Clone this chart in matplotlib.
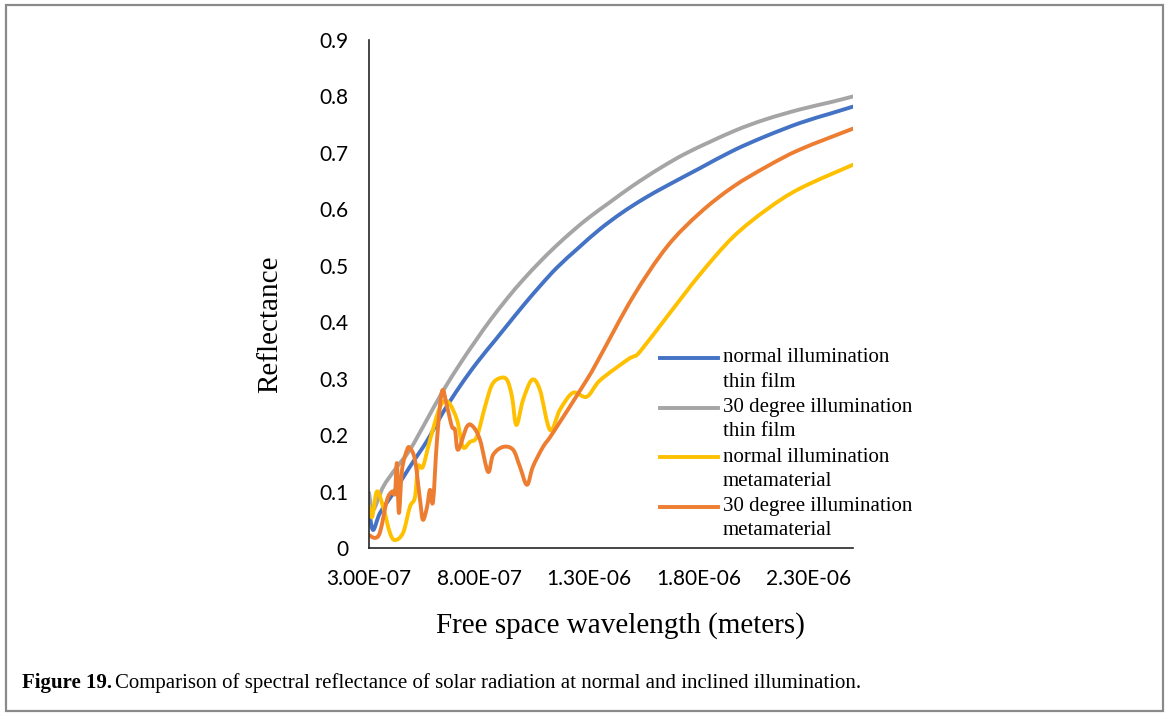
import matplotlib.pyplot as plt
from matplotlib.lines import Line2D
from matplotlib.patches import Rectangle, PathPatch
from matplotlib.path import Path
from matplotlib.ticker import FuncFormatter
import numpy as np

# wavelength in micrometres, reflectance
wl_blue = [0.30, 0.318, 0.35, 0.41, 0.486, 0.564, 0.636, 0.714, 0.79, 0.873, 0.927, 1.0,
           1.077, 1.155, 1.25, 1.35, 1.45, 1.55, 1.655, 1.8, 1.955, 2.1, 2.259, 2.4, 2.5]
r_blue = [0.07, 0.032, 0.062, 0.097, 0.144, 0.19, 0.24, 0.287, 0.328, 0.368, 0.394, 0.429,
          0.464, 0.497, 0.531, 0.565, 0.594, 0.619, 0.642, 0.672, 0.704, 0.729, 0.753, 0.77, 0.782]

wl_gray = [0.30, 0.318, 0.364, 0.42, 0.486, 0.56, 0.636, 0.72, 0.79, 0.85, 0.93, 1.0,
           1.077, 1.15, 1.23, 1.305, 1.4, 1.5, 1.623, 1.75, 1.955, 2.1, 2.259, 2.4, 2.5]
r_gray = [0.098, 0.067, 0.108, 0.14, 0.174, 0.225, 0.278, 0.33, 0.37, 0.403, 0.443, 0.475,
          0.507, 0.535, 0.563, 0.587, 0.614, 0.642, 0.673, 0.701, 0.738, 0.759, 0.777, 0.79, 0.80]

wl_yellow = [0.30, 0.314, 0.336, 0.364, 0.395, 0.418, 0.455, 0.486, 0.509, 0.523, 0.545,
             0.577, 0.623, 0.659, 0.70, 0.727, 0.759, 0.79, 0.827, 0.859, 0.895, 0.927,
             0.95, 0.97, 1.0, 1.041, 1.077, 1.123, 1.168, 1.227, 1.29, 1.35, 1.473, 1.5,
             1.532, 1.655, 1.805, 1.955, 2.109, 2.259, 2.5]
r_yellow = [0.075, 0.055, 0.10, 0.073, 0.027, 0.014, 0.027, 0.073, 0.09, 0.144, 0.144,
            0.191, 0.25, 0.259, 0.227, 0.179, 0.188, 0.197, 0.25, 0.289, 0.301, 0.298,
            0.268, 0.218, 0.262, 0.298, 0.28, 0.209, 0.245, 0.275, 0.268, 0.297, 0.333, 0.339,
            0.348, 0.41, 0.485, 0.551, 0.60, 0.637, 0.679]

wl_orange = [0.30, 0.327, 0.35, 0.382, 0.405, 0.418, 0.427, 0.436, 0.45, 0.473, 0.486,
             0.509, 0.532, 0.545, 0.564, 0.577, 0.591, 0.609, 0.632, 0.655, 0.677, 0.691,
             0.705, 0.745, 0.773, 0.805, 0.841, 0.864, 0.909, 0.955, 0.986, 1.018, 1.045,
             1.091, 1.136, 1.29, 1.35, 1.5, 1.655, 1.805, 1.955, 2.109, 2.259, 2.5]
r_orange = [0.023, 0.018, 0.028, 0.085, 0.10, 0.097, 0.15, 0.062, 0.138, 0.174, 0.177,
            0.156, 0.085, 0.05, 0.073, 0.103, 0.082, 0.191, 0.278, 0.25, 0.215, 0.209,
            0.174, 0.215, 0.215, 0.191, 0.135, 0.165, 0.179, 0.174, 0.144, 0.112, 0.144,
            0.179, 0.204, 0.298, 0.339, 0.445, 0.534, 0.594, 0.64, 0.676, 0.706, 0.743]

labels = [("normal illumination", "thin film"),
          ("30 degree illumination", "thin film"),
          ("normal illumination", "metamaterial"),
          ("30 degree illumination", "metamaterial")]
colors = ["#4472C4", "#A5A5A5", "#FFC000", "#ED7D31"]
series = [(wl_blue, r_blue), (wl_gray, r_gray), (wl_yellow, r_yellow), (wl_orange, r_orange)]


def smooth_path(x, y):
    # Excel-style smoothed line: cubic Bezier pieces through every point
    p = np.column_stack([x, y])
    verts = [p[0]]
    codes = [Path.MOVETO]
    n = len(p)
    for i in range(n - 1):
        p0 = p[i - 1] if i > 0 else p[i]
        p1, p2 = p[i], p[i + 1]
        p3 = p[i + 2] if i + 2 < n else p[i + 1]
        verts += [p1 + (p2 - p0) / 6, p2 - (p3 - p1) / 6, p2]
        codes += [Path.CURVE4] * 3
    return Path(verts, codes)


W, H = 1170, 715
fig = plt.figure(figsize=(W / 100, H / 100), dpi=100)
ax = fig.add_axes([369 / W, 1 - 548 / H, (853 - 369) / W, (548 - 40) / H])

for (wl, r), c in zip(series, colors):
    ax.add_patch(PathPatch(smooth_path(np.array(wl) * 1e-6, r), fill=False, edgecolor=c,
                           lw=2.8, capstyle='round', joinstyle='round'))

ax.set_xlim(3e-7, 2.5e-6)
ax.set_ylim(0, 0.9)
ax.set_xticks([3e-7, 8e-7, 1.3e-6, 1.8e-6, 2.3e-6])
ax.set_yticks(np.arange(0, 0.91, 0.1))
ax.xaxis.set_major_formatter(FuncFormatter(lambda v, p: f"{v:.2E}"))
ax.yaxis.set_major_formatter(FuncFormatter(lambda v, p: "0" if abs(v) < 1e-9 else f"{v:.1f}"))
ax.tick_params(length=0, labelsize=15, pad=15)
for lab in ax.get_xticklabels() + ax.get_yticklabels():
    lab.set_family("Lato")
for s in ["top", "right"]:
    ax.spines[s].set_visible(False)
for s in ["left", "bottom"]:
    ax.spines[s].set_color("#262626")
    ax.spines[s].set_linewidth(1.2)

serif = "Liberation Serif"
fig.text(620 / W, 1 - 626 / H, "Free space wavelength (meters)", family=serif,
         fontsize=21, ha="center", va="center")
fig.text(270 / W, 1 - 324 / H, "Reflectance", family=serif, fontsize=21,
         rotation=90, ha="center", va="center")

# legend drawn by hand so the key sits on the first text line
for i, ((l1, l2), c) in enumerate(zip(labels, colors)):
    yc = 358 + i * 49.6
    fig.add_artist(Line2D([660 / W, 718 / W], [1 - yc / H, 1 - yc / H], color=c, lw=2.8,
                          transform=fig.transFigure))
    fig.text(723 / W, 1 - yc / H, l1, family=serif, fontsize=15, va="center")
    fig.text(723 / W, 1 - (yc + 24) / H, l2, family=serif, fontsize=15, va="center")

# caption and frame
fig.add_artist(Rectangle((6 / W, 1 - 711 / H), (1163 - 6) / W, (711 - 5) / H,
                         transform=fig.transFigure, fill=False, edgecolor="#8a8a8a", lw=1.6))
t1 = fig.text(22 / W, 1 - 683 / H, "Figure 19.", family=serif, weight="bold",
              fontsize=15, va="center")
fig.canvas.draw()
bb = t1.get_window_extent()
fig.text(bb.x1 / W + 3 / W, 1 - 683 / H,
         "Comparison of spectral reflectance of solar radiation at normal and inclined illumination.",
         family=serif, fontsize=15, va="center")

fig.savefig("out.png", dpi=100)
